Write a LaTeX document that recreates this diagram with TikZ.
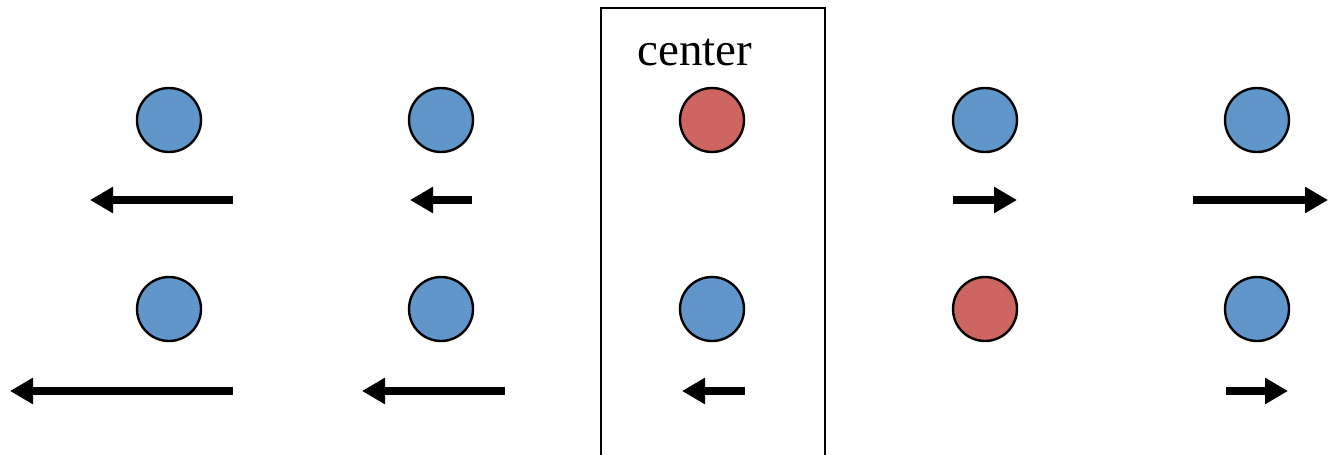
\documentclass[tikz,border=0pt]{standalone}
\usepackage{fontspec}
\setmainfont{Liberation Serif}
\usetikzlibrary{arrows.meta}
\definecolor{cblue}{HTML}{6096C9}
\definecolor{cred}{HTML}{CD6660}
\begin{document}
\begin{tikzpicture}[x=1pt,y=-1pt,
  ball/.style={circle,draw=black,line width=2.4pt,minimum size=64pt,inner sep=0pt},
  bb/.style={ball,fill=cblue},
  rb/.style={ball,fill=cred},
  mv/.style={line width=8.5pt,-{Triangle[length=23pt,width=25pt]}},
  frame/.style={line width=2pt}]
\useasboundingbox (0,0) rectangle (1328,455);
% frame
\draw[frame] (601,456) -- (601,8) -- (825,8) -- (825,456);
\node[anchor=base,font=\fontsize{47}{50}\selectfont] (lbl) at (695,65) {center};
% balls row 1
\node[bb] (a1) at (169,120) {};
\node[bb] (b1) at (441,120) {};
\node[rb] (c1) at (712,120) {};
\node[bb] (d1) at (985,120) {};
\node[bb] (e1) at (1257,120) {};
% balls row 2
\node[bb] (a2) at (169,309) {};
\node[bb] (b2) at (441,309) {};
\node[bb] (c2) at (712,309) {};
\node[rb] (d2) at (985,309) {};
\node[bb] (e2) at (1257,309) {};
% arrow endpoints row 1
\coordinate (a1s) at (233,200); \coordinate (a1t) at (90,200);
\coordinate (b1s) at (472,200); \coordinate (b1t) at (410,200);
\coordinate (d1s) at (953,200); \coordinate (d1t) at (1017,200);
\coordinate (e1s) at (1193,200); \coordinate (e1t) at (1328,200);
% arrow endpoints row 2
\coordinate (a2s) at (233,391); \coordinate (a2t) at (10,391);
\coordinate (b2s) at (505,391); \coordinate (b2t) at (362,391);
\coordinate (c2s) at (745,391); \coordinate (c2t) at (682,391);
\coordinate (e2s) at (1226,391); \coordinate (e2t) at (1288,391);
\draw[mv] (a1s) -- (a1t);
\draw[mv] (b1s) -- (b1t);
\draw[mv] (d1s) -- (d1t);
\draw[mv] (e1s) -- (e1t);
\draw[mv] (a2s) -- (a2t);
\draw[mv] (b2s) -- (b2t);
\draw[mv] (c2s) -- (c2t);
\draw[mv] (e2s) -- (e2t);
\end{tikzpicture}
\end{document}
